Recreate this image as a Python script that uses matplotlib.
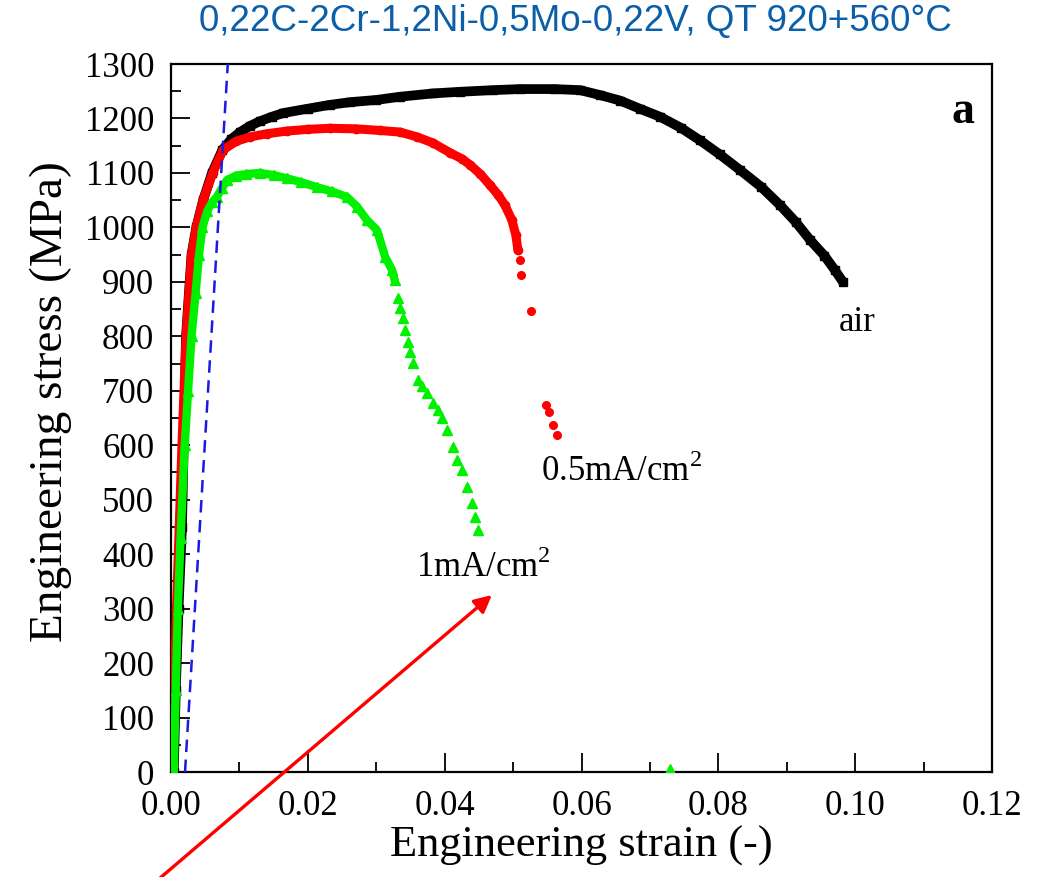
import matplotlib
matplotlib.use("Agg")
import matplotlib.pyplot as plt
from matplotlib.ticker import MultipleLocator, FormatStrFormatter

# === style ===
SERIF = ["Liberation Serif", "DejaVu Serif"]
plt.rcParams["font.family"] = SERIF
plt.rcParams["mathtext.fontset"] = "custom"
plt.rcParams["mathtext.rm"] = "Liberation Serif"
plt.rcParams["axes.unicode_minus"] = False

# === data ===
air_strain = [0.0004, 0.0007, 0.0011, 0.0016, 0.0022, 0.0030, 0.0037, 0.0047, 0.0060,
              0.0075, 0.0088, 0.0101, 0.0115, 0.0130, 0.0147, 0.0164, 0.0200, 0.0232,
              0.0262, 0.0300, 0.0335, 0.0383, 0.0422, 0.0470, 0.0510, 0.0560, 0.0598,
              0.0627, 0.0656, 0.0685, 0.0715, 0.0745, 0.0773, 0.0802, 0.0832, 0.0862,
              0.0890, 0.0913, 0.0934, 0.0955, 0.0970, 0.0982]
air_stress = [0, 150, 300, 450, 800, 950, 1000, 1050, 1100,
              1142, 1162, 1175, 1186, 1195, 1203, 1210, 1218, 1225,
              1230, 1234, 1240, 1246, 1249, 1252, 1254, 1254, 1252,
              1243, 1233, 1218, 1203, 1183, 1160, 1134, 1105, 1075,
              1041, 1010, 977, 948, 922, 900]

red_strain = [0.0002, 0.0005, 0.0008, 0.0012, 0.0016, 0.0022, 0.0030, 0.0037, 0.0047,
              0.0061, 0.0076, 0.0095, 0.0115, 0.0140, 0.0170, 0.0200, 0.0232, 0.0270,
              0.0305, 0.0335, 0.0360, 0.0383, 0.0408, 0.0425, 0.0437, 0.0452, 0.0466,
              0.0478, 0.0488, 0.0498, 0.0504, 0.0507]
red_stress = [0, 150, 300, 450, 600, 800, 950, 1000, 1050,
              1100, 1142, 1158, 1166, 1172, 1177, 1180, 1182, 1181,
              1178, 1175, 1166, 1155, 1137, 1126, 1115, 1098, 1078,
              1060, 1041, 1014, 986, 958]
red_tail_strain = [0.0510, 0.0512, 0.0526, 0.0548, 0.0553, 0.0558, 0.0564]
red_tail_stress = [940, 913, 847, 674, 661, 637, 619]

green_strain = [0.0004, 0.0007, 0.0010, 0.0014, 0.0020, 0.0025, 0.0030, 0.0036, 0.0041,
                0.0046, 0.0053, 0.0060, 0.0067, 0.0075, 0.0082, 0.0095, 0.0110, 0.0130,
                0.0150, 0.0170, 0.0190, 0.0213, 0.0235, 0.0257, 0.0272, 0.0286, 0.0301,
                0.0313, 0.0323, 0.0327]
green_stress = [0, 150, 300, 430, 600, 700, 800, 880, 950,
                1000, 1030, 1046, 1056, 1073, 1087, 1095, 1098, 1100,
                1096, 1090, 1083, 1074, 1066, 1056, 1038, 1014, 995,
                946, 922, 903]
green_tail_strain = [0.0332, 0.0335, 0.0339, 0.0342, 0.0346, 0.0349, 0.0354, 0.0361,
                     0.0367, 0.0374, 0.0383, 0.0390, 0.0396, 0.0403, 0.0412, 0.0418,
                     0.0425, 0.0433, 0.0440, 0.0444, 0.0449, 0.0730]
green_tail_stress = [870, 852, 834, 812, 790, 771, 751, 720,
                     708, 696, 678, 664, 650, 628, 597, 573,
                     555, 523, 494, 468, 444, 5]

offset_strain = [0.00205, 0.0083]
offset_stress = [0, 1300]

TITLE = "0,22C-2Cr-1,2Ni-0,5Mo-0,22V, QT 920+560°C"
labels = ["air", "0.5mA/cm$^{2}$", "1mA/cm$^{2}$"]
label_x = [0.1003, 0.0659, 0.0457]
label_y = [826, 551, 376]
arrow_tip = (0.0469, 325)
arrow_tail = (-0.0021, -200)

# === figure ===
fig = plt.figure(figsize=(10.42, 8.77), dpi=100)
ax = fig.add_axes([0.1641, 0.1197, 0.7880, 0.8073])

ax.plot(air_strain, air_stress, color="black", lw=7, marker="s", ms=6,
        solid_capstyle="round", solid_joinstyle="round", zorder=2)
ax.plot(red_strain, red_stress, color="#ff0000", lw=6.5, marker="o", ms=6,
        solid_capstyle="round", solid_joinstyle="round", zorder=3)
ax.plot(red_tail_strain, red_tail_stress, ls="none", color="#ff0000", marker="o",
        ms=5.5, zorder=3)
ax.plot(green_strain, green_stress, color="#00f000", lw=6, marker="^", ms=7,
        solid_capstyle="round", solid_joinstyle="round", zorder=4)
ax.plot(green_tail_strain, green_tail_stress, ls="none", color="#00f000", marker="^",
        ms=7, zorder=4)
ax.plot(offset_strain, offset_stress, color="#1a1ae0", lw=1.8, dashes=(5, 3), zorder=5)

for t, x, y in zip(labels, label_x, label_y):
    ax.text(x, y, t, fontsize=25, ha="center", va="center")
ax.text(0.1158, 1212, "a", fontsize=33, fontweight="bold", ha="center", va="center")

ax.annotate("", xy=arrow_tip, xytext=arrow_tail, annotation_clip=False,
            arrowprops=dict(arrowstyle="-|>", color="red", lw=2.4,
                            mutation_scale=26, shrinkA=0, shrinkB=0),
            zorder=6)

ax.set_xlim(0, 0.12)
ax.set_ylim(0, 1300)
ax.xaxis.set_major_locator(MultipleLocator(0.02))
ax.xaxis.set_minor_locator(MultipleLocator(0.01))
ax.xaxis.set_major_formatter(FormatStrFormatter("%.2f"))
ax.yaxis.set_major_locator(MultipleLocator(100))
ax.yaxis.set_minor_locator(MultipleLocator(50))

ax.tick_params(which="both", direction="in", top=False, right=False,
               labelsize=25, width=1.3, color="black")
ax.tick_params(which="major", length=14)
ax.tick_params(which="minor", length=7.5)
ax.tick_params(axis="x", pad=13)
ax.tick_params(axis="y", pad=12)
for s in ax.spines.values():
    s.set_linewidth(1.6)

ax.set_xlabel("Engineering strain (-)", fontsize=32)
ax.set_ylabel("Engineering stress (MPa)", fontsize=34)
ax.xaxis.set_label_coords(0.5, -0.076)
ax.yaxis.set_label_coords(-0.121, 0.523)

fig.text(0.552, 0.975, TITLE, fontsize=26.5, color="#0a5fa8", ha="center", va="center",
         family=["Liberation Sans", "DejaVu Sans"])

fig.savefig("out.png", dpi=100)
